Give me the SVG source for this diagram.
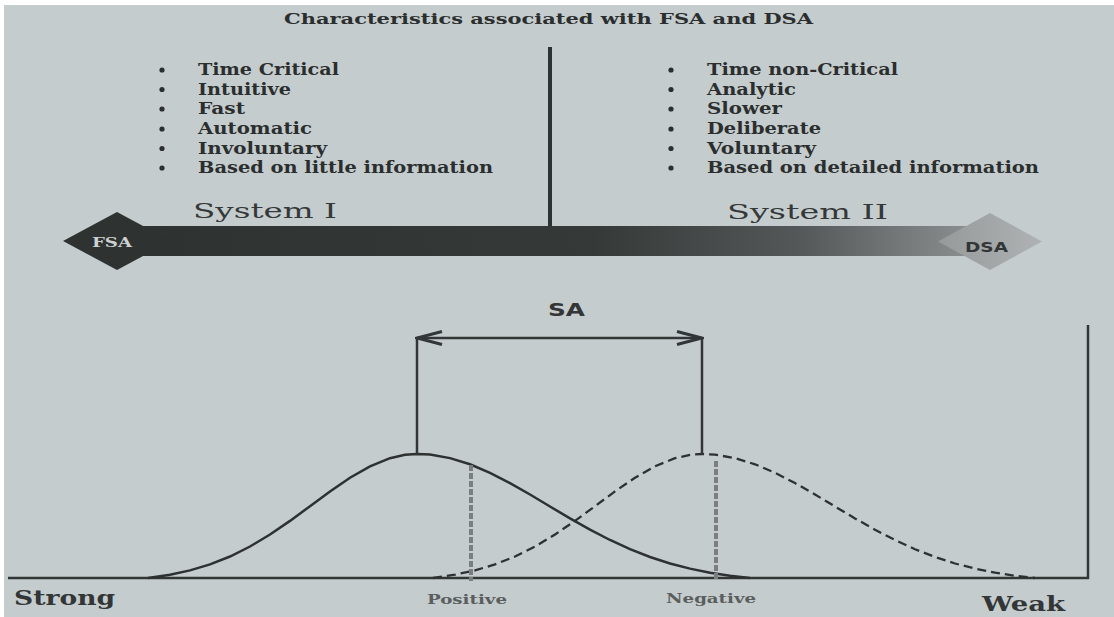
<svg xmlns="http://www.w3.org/2000/svg" width="1114" height="617" viewBox="0 0 1114 617">
<defs>
<style>
.bg{fill:#c5cccd}
.t{font-family:"DejaVu Serif","Liberation Serif",serif;font-weight:bold;font-size:16px;fill:#2b2e2e}
.ttl{font-family:"DejaVu Serif","Liberation Serif",serif;font-weight:bold;font-size:15px;fill:#2b2e2e}
.sys{font-family:"DejaVu Serif","Liberation Serif",serif;font-size:21px;fill:#353838}
.lab{font-family:"DejaVu Serif","Liberation Serif",serif;font-weight:bold;font-size:20px;fill:#333636}
.pn{font-family:"DejaVu Serif","Liberation Serif",serif;font-size:13.5px;font-weight:bold;fill:#5a5e5e}
.dot{fill:#2b2e2e}
.ln{stroke:#333636;stroke-width:2.5;fill:none}
.curve{stroke:#2e3131;stroke-width:2.5;fill:none}
.dcurve{stroke:#2e3131;stroke-width:2.3;fill:none;stroke-dasharray:9 5}
.gd{stroke:#7a7e7e;stroke-width:4;stroke-dasharray:6 2;fill:none}
</style>
<linearGradient id="barg" gradientUnits="userSpaceOnUse" x1="140" y1="0" x2="966" y2="0">
<stop offset="0" stop-color="#2e3231"/>
<stop offset="0.55" stop-color="#353938"/>
<stop offset="0.8" stop-color="#555858"/>
<stop offset="1" stop-color="#8a8d8d"/>
</linearGradient>
<linearGradient id="dsag" x1="0" y1="0" x2="1" y2="0">
<stop offset="0" stop-color="#979a9a"/>
<stop offset="1" stop-color="#afb2b2"/>
</linearGradient>
<marker id="ah" viewBox="0 0 30 16" refX="28" refY="8" markerWidth="30" markerHeight="16" markerUnits="userSpaceOnUse" orient="auto-start-reverse">
<path d="M3,1.5 L28,8 L3,14.5" fill="none" stroke="#333636" stroke-width="3"/>
</marker>
</defs>
<rect width="1114" height="617" fill="#ffffff"/>
<rect class="bg" x="4" y="5" width="1110" height="612"/>

<g id="title">
<text class="ttl" x="284" y="24" textLength="529" lengthAdjust="spacingAndGlyphs">Characteristics associated with FSA and DSA</text>
</g>

<g id="fsa-characteristics">
<circle class="dot" cx="162" cy="70" r="2.6"/>
<circle class="dot" cx="162" cy="89.5" r="2.6"/>
<circle class="dot" cx="162" cy="109" r="2.6"/>
<circle class="dot" cx="162" cy="129" r="2.6"/>
<circle class="dot" cx="162" cy="148.5" r="2.6"/>
<circle class="dot" cx="162" cy="168" r="2.6"/>
<text class="t" x="198" y="75" textLength="141" lengthAdjust="spacingAndGlyphs">Time Critical</text>
<text class="t" x="198" y="94.5" textLength="93" lengthAdjust="spacingAndGlyphs">Intuitive</text>
<text class="t" x="198" y="114" textLength="47" lengthAdjust="spacingAndGlyphs">Fast</text>
<text class="t" x="198" y="134" textLength="114" lengthAdjust="spacingAndGlyphs">Automatic</text>
<text class="t" x="198" y="153.5" textLength="129" lengthAdjust="spacingAndGlyphs">Involuntary</text>
<text class="t" x="198" y="173" textLength="295" lengthAdjust="spacingAndGlyphs">Based on little information</text>
</g>

<g id="dsa-characteristics">
<circle class="dot" cx="671" cy="70" r="2.6"/>
<circle class="dot" cx="671" cy="89.5" r="2.6"/>
<circle class="dot" cx="671" cy="109" r="2.6"/>
<circle class="dot" cx="671" cy="129" r="2.6"/>
<circle class="dot" cx="671" cy="148.5" r="2.6"/>
<circle class="dot" cx="671" cy="168" r="2.6"/>
<text class="t" x="707" y="75" textLength="191" lengthAdjust="spacingAndGlyphs">Time non-Critical</text>
<text class="t" x="707" y="94.5" textLength="89" lengthAdjust="spacingAndGlyphs">Analytic</text>
<text class="t" x="707" y="114" textLength="75" lengthAdjust="spacingAndGlyphs">Slower</text>
<text class="t" x="707" y="134" textLength="114" lengthAdjust="spacingAndGlyphs">Deliberate</text>
<text class="t" x="707" y="153.5" textLength="109" lengthAdjust="spacingAndGlyphs">Voluntary</text>
<text class="t" x="707" y="173" textLength="332" lengthAdjust="spacingAndGlyphs">Based on detailed information</text>
</g>

<g id="divider">
<line x1="550" y1="47" x2="550" y2="256" stroke="#2e3231" stroke-width="4"/>
</g>

<g id="system-bar">
<rect x="140" y="226" width="826" height="30" fill="url(#barg)"/>
<g id="fsa-node">
<polygon points="63,241 117,212 171,241 117,270" fill="#2e3231"/>
<text x="92" y="247" textLength="40" lengthAdjust="spacingAndGlyphs" style="font-family:'DejaVu Serif','Liberation Serif',serif;font-weight:bold;font-size:13px;fill:#cdd1d1">FSA</text>
</g>
<g id="dsa-node">
<polygon points="938,241.5 990,213 1042,241.5 990,270" fill="url(#dsag)"/>
<text x="965" y="252" textLength="43" lengthAdjust="spacingAndGlyphs" style="font-family:'DejaVu Sans','Liberation Sans',sans-serif;font-weight:bold;font-size:14px;fill:#333636">DSA</text>
</g>
<text class="sys" x="193" y="218" textLength="144" lengthAdjust="spacingAndGlyphs">System I</text>
<text class="sys" x="727" y="219" textLength="161" lengthAdjust="spacingAndGlyphs">System II</text>
</g>

<g id="axes">
<line class="ln" x1="8" y1="578" x2="1089" y2="578"/>
<line class="ln" x1="1088" y1="325" x2="1088" y2="579"/>
</g>

<g id="distributions">
<path class="curve" d="M148,578 L170,574.7 L190,570.4 L210,564.4 L230,556.5 L250,546.5 L270,534.5 L290,520.9 L310,506.2 L330,491.4 L350,477.7 L370,466.3 L390,458.2 L405,454.8 L417,454 L430,454.6 L450,458.1 L470,464.3 L490,472.8 L510,483.1 L530,494.5 L550,506.5 L570,518.4 L590,529.7 L610,540 L630,549.2 L650,557 L670,563.5 L690,568.6 L710,572.7 L730,575.8 L750,578"/>
<path class="dcurve" d="M433,578 L455,574.7 L475,570.4 L495,564.4 L515,556.5 L535,546.5 L555,534.5 L575,520.9 L595,506.2 L615,491.4 L635,477.7 L655,466.3 L675,458.2 L690,454.8 L702,454 L715,454.6 L735,458.1 L755,464.3 L775,472.8 L795,483.1 L815,494.5 L835,506.5 L855,518.4 L875,529.7 L895,540 L915,549.2 L935,557 L955,563.5 L975,568.6 L995,572.7 L1015,575.8 L1035,578"/>
<line class="gd" x1="471" y1="465" x2="471" y2="581"/>
<line class="gd" x1="716" y1="461" x2="716" y2="581"/>
</g>

<g id="connectors">
<line class="ln" x1="417" y1="338" x2="417" y2="454"/>
<line class="ln" x1="702" y1="338" x2="702" y2="454"/>
<line class="ln" x1="417" y1="338" x2="702" y2="338" marker-start="url(#ah)" marker-end="url(#ah)"/>
</g>

<g id="sa-label">
<text x="548" y="316" textLength="37" lengthAdjust="spacingAndGlyphs" style="font-family:'DejaVu Sans','Liberation Sans',sans-serif;font-weight:bold;font-size:17px;fill:#333636">SA</text>
</g>

<g id="axis-labels">
<text class="lab" x="14" y="605" textLength="101" lengthAdjust="spacingAndGlyphs">Strong</text>
<text class="lab" x="982" y="611" textLength="83" lengthAdjust="spacingAndGlyphs">Weak</text>
<text class="pn" x="427" y="604" textLength="80" lengthAdjust="spacingAndGlyphs">Positive</text>
<text class="pn" x="666" y="603" textLength="90" lengthAdjust="spacingAndGlyphs">Negative</text>
</g>
</svg>
